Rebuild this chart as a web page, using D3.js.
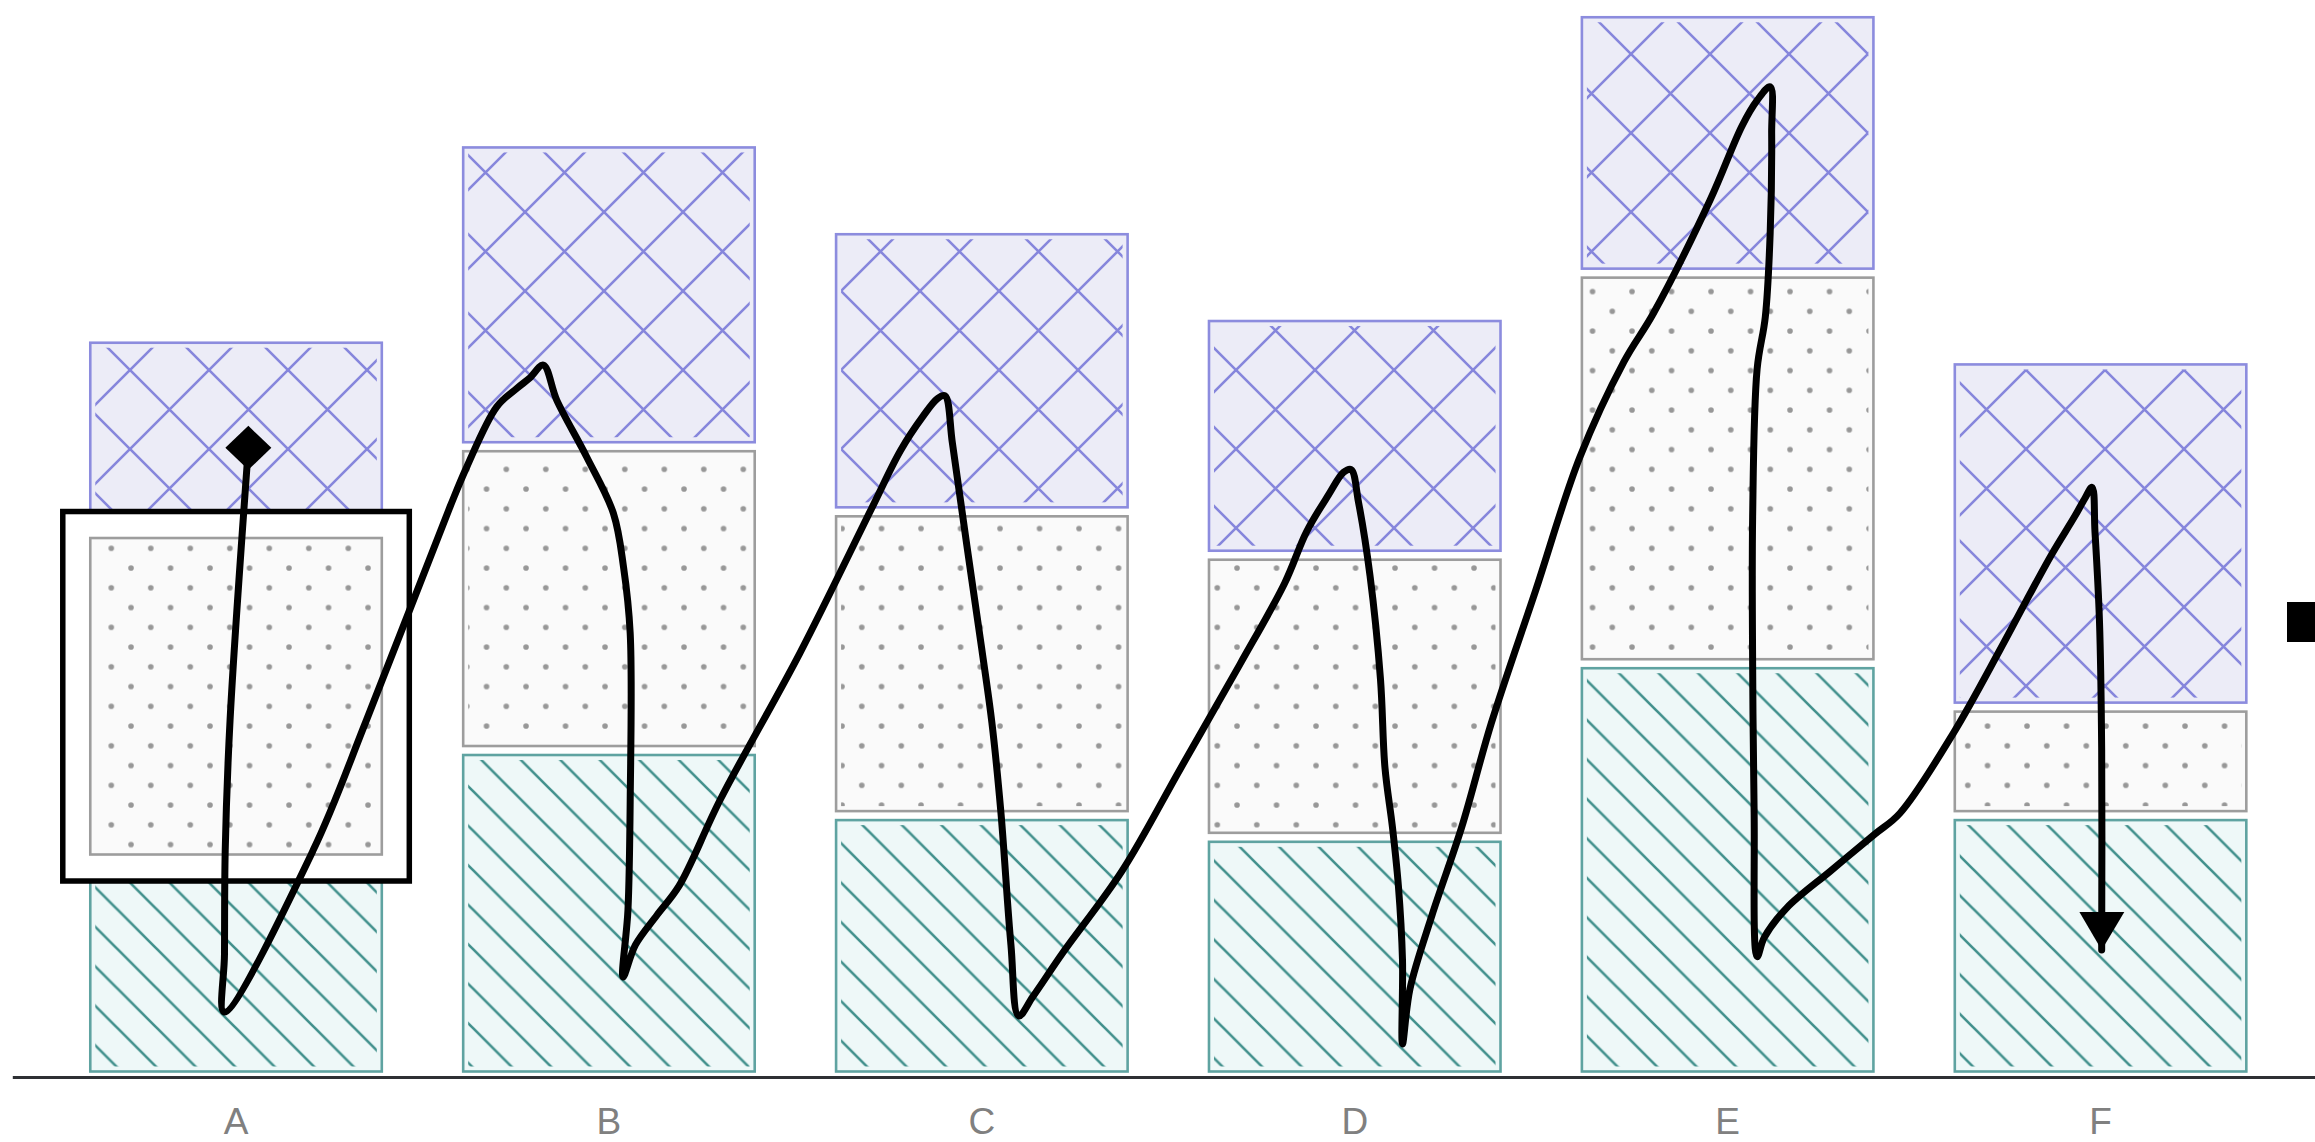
<!DOCTYPE html>
<html><head><meta charset="utf-8">
<script src="https://cdn.jsdelivr.net/npm/d3@7"></script>
<style>html,body{margin:0;padding:0;background:#fff;overflow:hidden}</style>
</head><body><svg id="chart" width="2315" height="1142"></svg>
<script>
// ---- data ----
const categories = ["A", "B", "C", "D", "E", "F"];
const bottomValues = [10, 15, 12, 11, 19, 12];   // teal hatched
const middleValues = [15, 14, 14, 13, 18, 5];    // dotted
const topValues    = [9, 14, 13, 11, 12, 16];    // crosshatched
const tickLabels = ["A", "B", "C", "D", "E", "F"];
const highlightCategory = "A";
const highlightSeries = "middle";
// freehand line: category position (0 = A ... 5 = F) and value
const pathPos = [0.033,-0.016,-0.029,-0.031,-0.032,0.207,0.350,0.574,0.619,0.699,0.753,0.788,0.824,0.860,0.940,1.012,1.039,1.057,1.057,1.051,1.038,1.071,1.129,1.188,1.298,1.512,1.703,1.782,1.842,1.881,1.901,1.921,1.960,2.000,2.027,2.051,2.078,2.099,2.137,2.218,2.376,2.534,2.692,2.812,2.871,2.930,2.970,2.990,3.010,3.041,3.069,3.081,3.101,3.117,3.128,3.128,3.148,3.207,3.287,3.366,3.485,3.603,3.722,3.801,3.953,4.039,4.079,4.114,4.118,4.114,4.101,4.079,4.067,4.067,4.071,4.079,4.098,4.158,4.276,4.395,4.462,4.605,4.730,4.802,4.870,4.930,4.957,4.977,4.985,4.997,5.003,5.003];
const pathVal = [28.95,16.41,10.41,5.60,2.95,10.41,16.41,26.24,28.08,30.84,31.69,32.17,32.76,31.15,28.54,25.93,23.47,20.40,12.72,7.65,4.56,6.04,7.42,8.76,12.72,19.49,26.11,28.83,30.40,31.22,31.35,29.17,24.42,19.65,16.27,12.17,6.04,2.77,3.66,5.70,9.45,14.21,18.97,22.71,25.09,26.79,27.82,27.95,26.45,23.05,18.29,14.21,11.48,8.77,5.36,1.48,4.01,7.40,11.48,16.25,22.37,28.49,32.92,35.15,40.37,43.80,44.96,45.59,43.44,38.83,34.99,32.58,25.77,18.97,12.17,5.50,6.38,7.74,9.45,11.15,12.11,15.79,19.63,21.94,24.07,25.77,26.59,27.13,25.09,21.01,15.02,5.81];

// ---- setup ----
const svg = d3.select("#chart");
const x = d3.scaleBand().domain(categories).range([12.3, 2324.3]).paddingInner(0.2).paddingOuter(0.2);
const y = d3.scaleLinear().domain([0, 49]).range([1076, 12.75]);
const xLine = d3.scaleLinear().domain([0, 5])
  .range([x(categories[0]) + x.bandwidth() / 2, x(categories[5]) + x.bandwidth() / 2]);

const rows = categories.map((c, i) => ({cat: c, bottom: bottomValues[i], middle: middleValues[i], top: topValues[i]}));
const stack = d3.stack().keys(["bottom", "middle", "top"]);
const series = stack(rows);

const defs = svg.append("defs");
// crosshatch pattern
const pc = defs.append("pattern").attr("id", "pCross").attr("patternUnits", "userSpaceOnUse")
  .attr("width", 79).attr("height", 79).attr("x", 51).attr("y", 54);
let dc = "";
for (const k of [-1, 0, 1]) {
  dc += `M${k*79-10},-10L${k*79+89},89`;
  dc += `M${79+k*79+10},-10L${k*79-10},89`;
}
pc.append("path").attr("d", dc).attr("stroke", "#8686dc").attr("stroke-width", 2.6).attr("fill", "none");
// dots pattern
const pd = defs.append("pattern").attr("id", "pDots").attr("patternUnits", "userSpaceOnUse")
  .attr("width", 39.5).attr("height", 39.5).attr("x", 32.3).attr("y", 34.8);
[[0,0],[39.5,0],[0,39.5],[39.5,39.5],[19.75,19.75]].forEach(p =>
  pd.append("circle").attr("cx", p[0]).attr("cy", p[1]).attr("r", 2.8).attr("fill", "#979797"));
// hatch pattern
const ph = defs.append("pattern").attr("id", "pHatch").attr("patternUnits", "userSpaceOnUse")
  .attr("width", 39.5).attr("height", 39.5).attr("x", 37.4).attr("y", 0);
let dh = "";
for (const k of [-1, 0, 1]) dh += `M${k*39.5-10},-10L${k*39.5+49.5},49.5`;
ph.append("path").attr("d", dh).attr("stroke", "#41908c").attr("stroke-width", 2.6).attr("fill", "none");

// markers
defs.append("marker").attr("id", "mDiamond").attr("markerUnits", "userSpaceOnUse")
  .attr("viewBox", "-30 -30 60 60").attr("markerWidth", 60).attr("markerHeight", 60)
  .attr("refX", 0).attr("refY", 0).attr("orient", "0")
  .append("path").attr("d", "M0,-22L23,0L0,22L-23,0Z").attr("fill", "#000");
defs.append("marker").attr("id", "mArrow").attr("markerUnits", "userSpaceOnUse")
  .attr("viewBox", "0 -25 40 50").attr("markerWidth", 40).attr("markerHeight", 50)
  .attr("refX", 38).attr("refY", 0).attr("orient", "auto")
  .append("path").attr("d", "M0,-22.5L38,0L0,22.5Z").attr("fill", "#000");

const styles = {
  bottom: {fill: "#eef8f8", stroke: "#5fa3a1", pat: "url(#pHatch)"},
  middle: {fill: "#fafafa", stroke: "#9d9d9d", pat: "url(#pDots)"},
  top:    {fill: "#ececf7", stroke: "#8c8cde", pat: "url(#pCross)"}
};
const insX = 3.4, insY = 4.5, patIns = 5;

function drawSeg(g, s, d) {
  const st = styles[s.key];
  const rx = x(d.data.cat) + insX, rw = x.bandwidth() - 2 * insX;
  const ry = y(d[1]) + insY, rh = y(d[0]) - y(d[1]) - 2 * insY;
  g.append("rect").attr("x", rx).attr("y", ry).attr("width", rw).attr("height", rh)
    .attr("fill", st.fill).attr("stroke", st.stroke).attr("stroke-width", 2.6);
  g.append("rect").attr("x", rx + patIns).attr("y", ry + patIns)
    .attr("width", rw - 2 * patIns).attr("height", rh - 2 * patIns).attr("fill", st.pat);
  return {rx, ry, rw, rh};
}

const gBars = svg.append("g");
let hl = null;
series.forEach(s => s.forEach(d => {
  const r = drawSeg(gBars, s, d);
  if (s.key === highlightSeries && d.data.cat === highlightCategory) hl = {s, d, r};
}));

// highlight box
const gHl = svg.append("g");
gHl.append("rect").attr("x", hl.r.rx - 27.5).attr("y", hl.r.ry - 26.5)
  .attr("width", hl.r.rw + 55).attr("height", hl.r.rh + 53)
  .attr("fill", "#fff").attr("stroke", "#000").attr("stroke-width", 5.5);
drawSeg(gHl, hl.s, hl.d);

// axis
const gx = svg.append("g").attr("transform", "translate(0,1077)")
  .call(d3.axisBottom(x).tickSize(0).tickPadding(31).tickFormat((d, i) => tickLabels[i]));
gx.select(".domain").attr("stroke", "#2e3034").attr("stroke-width", 3);
gx.selectAll("text").attr("fill", "#808080").attr("font-size", 37)
  .attr("font-family", "'Liberation Sans', Arial, sans-serif");

// freehand line
const pts = pathPos.map((p, i) => [xLine(p), y(pathVal[i])]);
svg.append("path").attr("d", d3.line().curve(d3.curveCatmullRom.alpha(0.5))(pts))
  .attr("fill", "none").attr("stroke", "#000").attr("stroke-width", 7)
  .attr("stroke-linejoin", "round").attr("stroke-linecap", "round")
  .attr("marker-start", "url(#mDiamond)").attr("marker-end", "url(#mArrow)");

// legend swatch (cut off at right edge)
svg.append("rect").attr("x", 2287).attr("y", 602).attr("width", 40).attr("height", 40).attr("fill", "#000");
</script></body></html>
